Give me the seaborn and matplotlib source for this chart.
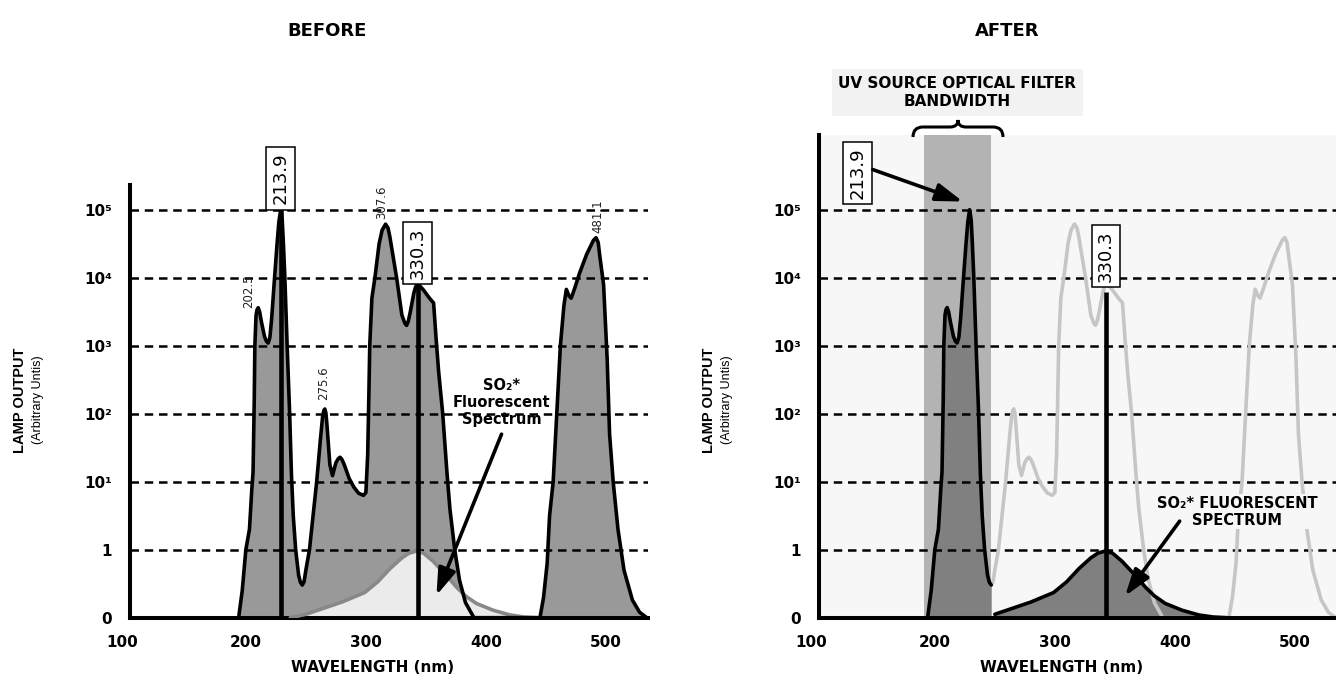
"""
Lamp output before / after the UV source optical filter
"""

import matplotlib
matplotlib.use("Agg")
import matplotlib.pyplot as plt
from matplotlib.path import Path
from matplotlib.patches import PathPatch
import seaborn as sns
import pandas as pd

sns.set_style("white")
plt.rcParams['font.family'] = 'DejaVu Sans'
plt.rcParams['text.color'] = 'black'
plt.rcParams['xtick.color'] = 'black'
plt.rcParams['ytick.color'] = 'black'
plt.rcParams['lines.solid_joinstyle'] = 'round'

# --- data (wavelength in axis units, output as log10; -1 is the "0" baseline) ---
lamp_nm = [194, 197, 200, 203, 205, 206, 207, 207.5, 208.5, 209.3, 210.3, 211.5, 213, 215.5,
           217, 218.6, 220, 221.5, 223.5, 226, 227.5, 229, 230.3, 231.3, 232.5, 234.4, 236.5,
           238, 239.5, 241.5, 244, 245.5, 247, 248.5, 250, 253, 256, 259, 262, 264, 265,
           265.8, 266.7, 267.5, 270, 272.2, 275, 277, 278.5, 280, 282, 286, 290, 294, 298,
           300, 301.5, 302.5, 303.2, 305, 307.5, 311, 313.5, 316.4, 318.5, 320, 325.6, 330,
           332.5, 333.9, 335.3, 337, 340, 341.5, 343, 345, 348, 353, 356.4, 358.5, 360.6, 364,
           367.5, 370, 374, 378, 383, 390, 445, 448, 451, 453, 456, 459, 462, 465, 467, 469,
           471, 474, 478, 484, 489.5, 491.7, 493.5, 495, 498, 501, 503, 506, 510, 515, 522,
           528, 534]
lamp_log = [-1.0, -0.6, 0.0, 0.3, 0.9, 1.14, 2.2, 3.0, 3.45, 3.53, 3.56, 3.5, 3.35, 3.14,
            3.07, 3.04, 3.12, 3.4, 3.9, 4.5, 4.82, 5.0, 4.85, 4.5, 4.0, 3.0, 2.0,
            1.1, 0.5, 0.0, -0.38, -0.48, -0.52, -0.47, -0.3, 0.0, 0.5, 1.0, 1.6, 1.97, 2.05,
            2.07, 2.01, 1.85, 1.25, 1.09, 1.28, 1.34, 1.36, 1.33, 1.25, 1.05, 0.92, 0.83, 0.80,
            0.84, 1.4, 2.3, 3.0, 3.7, 4.0, 4.5, 4.7, 4.79, 4.73, 4.6, 4.0, 3.45,
            3.33, 3.30, 3.36, 3.5, 3.78, 3.87, 3.90, 3.88, 3.82, 3.7, 3.63, 3.1, 2.62, 2.0,
            1.14, 0.6, 0.0, -0.45, -0.78, -1.0, -1.0, -0.7, -0.2, 0.5, 1.0, 2.0, 3.0, 3.6,
            3.83, 3.74, 3.70, 3.85, 4.07, 4.35, 4.55, 4.59, 4.52, 4.3, 3.9, 2.8, 1.7, 1.0,
            0.3, -0.3, -0.74, -0.92, -1.0]

so2_nm = [237, 250, 265, 280, 299, 310, 320, 330, 336, 342, 348, 356, 365, 376, 383, 392,
          406, 420, 432, 443]
so2_log = [-1.0, -0.95, -0.86, -0.77, -0.63, -0.47, -0.28, -0.12, -0.05, -0.02, -0.05, -0.17,
           -0.34, -0.56, -0.68, -0.79, -0.89, -0.96, -0.99, -1.0]

filter_band = [190.8, 247]

ytick_pos = [-1, 0, 1, 2, 3, 4, 5]
ytick_labels = ['0', '1', '10¹', '10²', '10³', '10⁴', '10⁵']
xtick_pos = [200, 300, 400, 500]

# peak labels (left panel): text, x, y of text start
peak_labels = [('202.5', 202, 3.56), ('275.6', 264.4, 2.2), ('307.6', 313, 4.86),
               ('481.1', 493.6, 4.66)]

lamp = pd.DataFrame({'nm': lamp_nm, 'log': lamp_log})
so2 = pd.DataFrame({'nm': so2_nm, 'log': so2_log})

W, H = 1336, 687
fig = plt.figure(figsize=(W / 100, H / 100), dpi=100)


def fx(px):
    return px / W


def fy(py):
    return 1 - py / H


def style_axis(ax, ytop, xright):
    ax.set_xlim(103.5, xright)
    ax.set_ylim(-1, ytop)
    for s in ['top', 'right']:
        ax.spines[s].set_visible(False)
    for s in ['left', 'bottom']:
        ax.spines[s].set_linewidth(2.9)
        ax.spines[s].set_color('black')
        ax.spines[s].set_capstyle('projecting')
    ax.set_yticks(ytick_pos)
    ax.set_yticklabels(ytick_labels, fontweight='bold', fontsize=11)
    ax.set_xticks(xtick_pos)
    ax.set_xticklabels([str(v) for v in xtick_pos], fontweight='bold', fontsize=11)
    ax.tick_params(axis='y', length=12, width=2.9, direction='out', pad=1, color='black')
    ax.tick_params(axis='x', length=6.5, width=2.9, direction='out', pad=6, color='black')
    ax.annotate('100', xy=(97, 0), xycoords=('data', 'axes fraction'), xytext=(0, -12.5),
                textcoords='offset points', ha='center', va='top', fontweight='bold',
                fontsize=11, annotation_clip=False)
    for lv in range(0, 6):
        ax.axhline(lv, color='black', lw=1.8, linestyle=(0, (3.4, 2.3)), zorder=2)


def box_label(ax, text, x, y):
    ax.annotate(text, xy=(x, y), xytext=(0, 4), textcoords='offset points', rotation=90,
                ha='center', va='bottom', fontsize=13, zorder=6, annotation_clip=False,
                bbox=dict(boxstyle='square,pad=0.3', fc='white', ec='black', lw=1.1))


arrow_props = dict(arrowstyle='-|>,head_length=0.9,head_width=0.3', lw=2.6, color='black',
                   mutation_scale=18, shrinkA=0, shrinkB=0)

# ---------------- BEFORE ----------------
ax1 = fig.add_axes([fx(130), 1 - 617.7 / H, 518 / W, 433 / H])
style_axis(ax1, 5.37, 535)

ax1.fill_between(lamp['nm'], -1, lamp['log'], color='#999999', lw=0, zorder=1)
ax1.fill_between(so2['nm'], -1, so2['log'], color='#ebebeb', lw=0, zorder=1.5)
sns.lineplot(data=so2, x='nm', y='log', sort=False, color='#888888', lw=2.6, ax=ax1, zorder=2.6)
sns.lineplot(data=lamp, x='nm', y='log', sort=False, color='black', lw=2.6, ax=ax1, zorder=3)
ax1.vlines(229, -1, 5.0, color='black', lw=3.3, zorder=4)
ax1.vlines(343, -1, 3.9, color='black', lw=3.3, zorder=4)
box_label(ax1, '213.9', 229, 5.0)
box_label(ax1, '330.3', 343, 3.9)
for txt, x, y in peak_labels:
    ax1.text(x, y, txt, rotation=90, ha='center', va='bottom', fontsize=8.5, color='#222222',
             zorder=5)
ax1.text(413, 2.17, 'SO₂*\nFluorescent\nSpectrum', ha='center', va='center',
         fontsize=10.5, fontweight='bold', linespacing=1.15, zorder=5)
ax1.annotate('', xy=(358.8, -0.67), xytext=(413, 1.7), arrowprops=arrow_props, zorder=6)
ax1.set_xlabel('')
ax1.set_ylabel('')

# ---------------- AFTER ----------------
ax2 = fig.add_axes([fx(819), 1 - 617.7 / H, 517 / W, 482.8 / H])
style_axis(ax2, 6.1, 534.3)
ax2.set_facecolor('#f7f7f7')
ax2.axvspan(filter_band[0], filter_band[1], color='#b3b3b3', lw=0, zorder=0.5)

inside = lamp[lamp['nm'] <= filter_band[1]]
outside = lamp[lamp['nm'] >= filter_band[1]]
so2_out = so2[so2['nm'] >= filter_band[1]]

ax2.fill_between(inside['nm'], -1, inside['log'], color='#808080', lw=0, zorder=1)
ax2.fill_between(so2_out['nm'], -1, so2_out['log'], color='#808080', lw=0, zorder=1)
sns.lineplot(data=outside, x='nm', y='log', sort=False, color='#c6c6c6', lw=2.6, ax=ax2,
             zorder=2.4)
sns.lineplot(data=inside, x='nm', y='log', sort=False, color='black', lw=2.6, ax=ax2, zorder=3)
sns.lineplot(data=so2_out, x='nm', y='log', sort=False, color='black', lw=2.6, ax=ax2,
             zorder=3)
ax2.vlines(342.7, -1, 3.79, color='black', lw=3.3, zorder=4)
box_label(ax2, '330.3', 342.7, 3.86)
ax2.text(135.4, 5.54, '213.9', rotation=90, ha='center', va='center', fontsize=13, zorder=6,
         bbox=dict(boxstyle='square,pad=0.3', fc='white', ec='black', lw=1.1))
ax2.annotate('', xy=(223.3, 5.12), xytext=(148.3, 5.59), arrowprops=arrow_props, zorder=6)
ax2.text(452, 0.56, 'SO₂* FLUORESCENT\nSPECTRUM', ha='center', va='center', fontsize=10.5,
         fontweight='bold', linespacing=1.15, zorder=5,
         bbox=dict(boxstyle='square,pad=0.1', fc='#f7f7f7', ec='none'))
ax2.annotate('', xy=(358.6, -0.68), xytext=(404, 0.42), arrowprops=arrow_props, zorder=6)
ax2.set_xlabel('')
ax2.set_ylabel('')

# filter bandwidth heading and brace
fig.text(fx(957.5), fy(92.5), 'UV SOURCE OPTICAL FILTER\nBANDWIDTH', ha='center', va='center',
         fontsize=11, fontweight='bold', linespacing=1.2,
         bbox=dict(boxstyle='square,pad=0.45', fc='#f2f2f2', ec='none'))
brace_px = [(913, 137), (913, 127), (923, 127), (950, 127), (958, 127), (958, 120),
            (958, 127), (966, 127), (993, 127), (1003, 127), (1003, 137)]
codes = [Path.MOVETO, Path.CURVE3, Path.CURVE3, Path.LINETO, Path.CURVE3, Path.CURVE3,
         Path.CURVE3, Path.CURVE3, Path.LINETO, Path.CURVE3, Path.CURVE3]
brace = Path([(fx(x), fy(y)) for x, y in brace_px], codes)
fig.patches.append(PathPatch(brace, transform=fig.transFigure, fc='none', ec='black', lw=2.2))

# titles and axis labels
fig.text(fx(327), fy(31), 'BEFORE', ha='center', va='center', fontsize=13, fontweight='bold')
fig.text(fx(1007), fy(31), 'AFTER', ha='center', va='center', fontsize=13, fontweight='bold')
for axis_px, lab_x in [(130, 373), (819, 1062)]:
    fig.text(fx(axis_px - 110), fy(400), 'LAMP OUTPUT', rotation=90, ha='center', va='center',
             fontsize=10.5, fontweight='bold', family='Liberation Sans')
    fig.text(fx(axis_px - 92), fy(400), '(Arbitrary Untis)', rotation=90, ha='center',
             va='center', fontsize=9, family='Liberation Sans')
    fig.text(fx(lab_x), fy(668), 'WAVELENGTH (nm)', ha='center', va='center', fontsize=11,
             fontweight='bold')

fig.savefig('out.png', dpi=100)
plt.close(fig)
